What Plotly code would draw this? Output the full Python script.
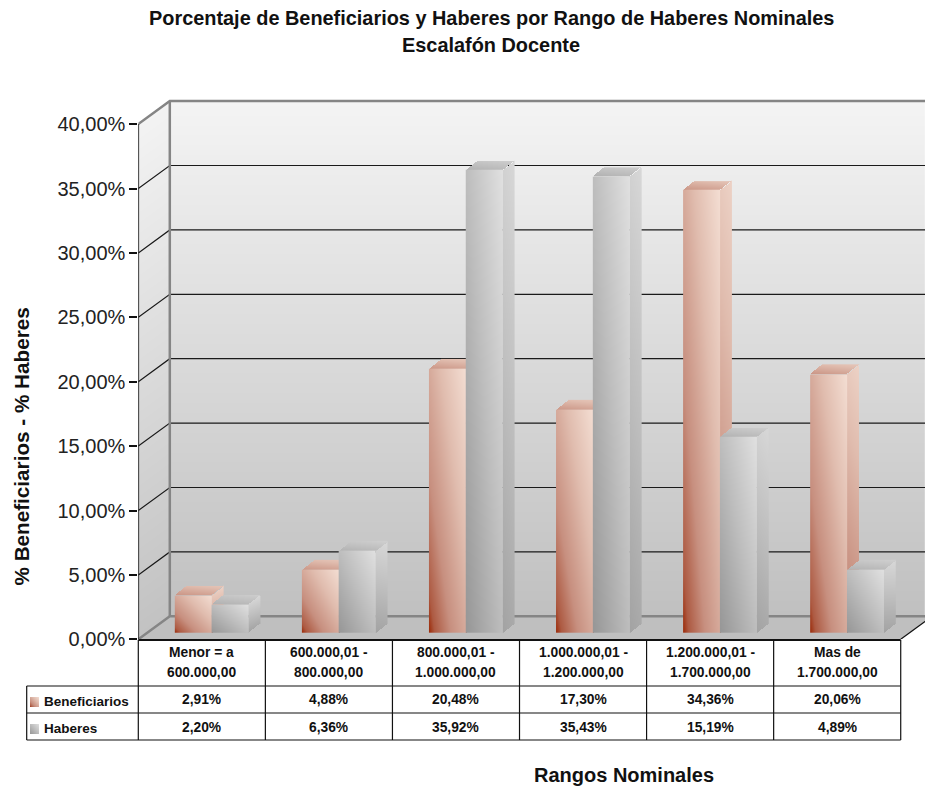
import numpy as np
import plotly.graph_objects as go

# ---- data ----
categories = [["Menor = a", "600.000,00"], ["600.000,01 -", "800.000,00"], ["800.000,01 -", "1.000.000,00"],
              ["1.000.000,01 -", "1.200.000,00"], ["1.200.000,01 -", "1.700.000,00"], ["Mas de", "1.700.000,00"]]
beneficiarios = [2.91, 4.88, 20.48, 17.30, 34.36, 20.06]
haberes = [2.20, 6.36, 35.92, 35.43, 15.19, 4.89]
y_ticks = [0, 5, 10, 15, 20, 25, 30, 35, 40]
y_tick_labels = ["0,00%", "5,00%", "10,00%", "15,00%", "20,00%", "25,00%", "30,00%", "35,00%", "40,00%"]

# ---- geometry / styling ----
W, H = 925, 787
FONT = "Liberation Sans"
PX_X, PX_Y = 1 / 127.07, 1 / 12.88         # one screen pixel in axis units
LEFT, BASE, TOP = 138.3, 639.3, 95
X_RANGE = [-0.5, (925 - LEFT) * PX_X - 0.5]
Y_RANGE = [0, (BASE - TOP) * PX_Y]
WALL_DX, WALL_DY = 31.5 * PX_X, 23 * PX_Y  # depth of the room
BAR_DX, BAR_DY = 12 * PX_X, 9.5 * PX_Y     # depth of a bar
BAR_W = 36.8 * PX_X
BAR_BASE = 6.6 * PX_Y
GROUP_SHIFT = -0.2125

RED = [[0, "#9a2806"], [0.08, "#ad5a42"], [0.3, "#c78f7f"], [0.65, "#e0bcae"], [1, "#f3ddd2"]]
GREY = [[0, "#969696"], [0.5, "#bdbdbd"], [1, "#e0e0e0"]]
WALL = [[0, "#c0c0c0"], [1, "#f4f4f4"]]
SIDE_WALL = [[0, "#c2c2c2"], [1, "#f3f3f3"]]

fig = go.Figure()


def face(o, e1, e2, zf, scale, xa, ya, step=1.0):
    """Paint a parallelogram with a gradient as a pixel-grid heatmap."""
    pts = np.array([o, np.add(o, e1), np.add(o, e2), np.add(np.add(o, e1), e2)])
    xs = np.arange(pts[:, 0].min() + PX_X * step / 2, pts[:, 0].max(), PX_X * step)
    ys = np.arange(pts[:, 1].min() + PX_Y * step / 2, pts[:, 1].max(), PX_Y * step)
    gx, gy = np.meshgrid(xs, ys)
    inv = np.linalg.inv(np.array([e1, e2]).T)
    u = inv[0, 0] * (gx - o[0]) + inv[0, 1] * (gy - o[1])
    v = inv[1, 0] * (gx - o[0]) + inv[1, 1] * (gy - o[1])
    z = zf(u, v)
    z = np.where((u >= 0) & (u <= 1) & (v >= 0) & (v <= 1), z, np.nan)
    fig.add_trace(go.Heatmap(x=xs, y=ys, z=z, zmin=0, zmax=1, colorscale=scale, showscale=False,
                             hoverinfo="skip", xaxis=xa, yaxis=ya, zsmooth=False))


def line(xs, ys, color, width):
    fig.add_trace(go.Scatter(x=xs, y=ys, mode="lines", line=dict(color=color, width=width),
                             hoverinfo="skip", showlegend=False, cliponaxis=True))


# ---- room ----
bx = -0.5 + WALL_DX
face((bx, WALL_DY), (X_RANGE[1] - bx, 0), (0, 40), lambda u, v: v, WALL, "x", "y")
face((-0.5, 0), (WALL_DX, WALL_DY), (0, 40), lambda u, v: v, SIDE_WALL, "x", "y")

fig.add_trace(go.Scatter(x=[-0.5, 5.5, 5.5 + WALL_DX, bx, -0.5], y=[0, 0, WALL_DY, WALL_DY, 0],
                         mode="lines", fill="toself", fillcolor="#bfbfbf", line=dict(width=0),
                         hoverinfo="skip", showlegend=False))

gx, gy = [], []
for t in y_ticks[1:-1]:
    gx += [-0.5, bx, X_RANGE[1], None]
    gy += [t, t + WALL_DY, t + WALL_DY, None]
line(gx, gy, "#1a1a1a", 1.2)
line([-0.5, bx, X_RANGE[1]], [40, 40 + WALL_DY, 40 + WALL_DY], "#858585", 2.5)
line([bx, bx], [WALL_DY, 40 + WALL_DY], "#858585", 2.5)
line([-0.5, bx, X_RANGE[1]], [0, WALL_DY, WALL_DY], "#858585", 2.5)
line([5.5, 5.5 + WALL_DX], [0, WALL_DY], "#111111", 1.2)
line([-0.5, -0.5], [0, 40], "#111111", 1.6)


# ---- bars ----
def bars(values, name, idx, scale, xa, ya):
    shift = GROUP_SHIFT + idx * BAR_W
    for i, val in enumerate(values):
        x0 = i + shift
        x1 = x0 + BAR_W
        top = BAR_BASE + val
        face((x1, BAR_BASE), (BAR_DX, BAR_DY), (0, val),
             lambda u, v: 0.16 + 0.1 * u + 0.62 * v, scale, xa, ya)
        face((x0, top), (BAR_W, 0), (BAR_DX, BAR_DY),
             lambda u, v: 0.35 + 0.1 * u + 0.3 * v, scale, xa, ya)
        face((x0, BAR_BASE), (BAR_W, 0), (0, val),
             lambda u, v: 0.5 * u + 0.5 * v, scale, xa, ya)
    fig.add_trace(go.Bar(x=[i + shift + BAR_W / 2 for i in range(len(values))], y=values, base=BAR_BASE,
                         width=BAR_W, name=name, marker=dict(color="rgba(0,0,0,0)", line=dict(width=0)),
                         showlegend=False, xaxis=xa, yaxis=ya, hovertemplate="%{y:.2f}%<extra>" + name + "</extra>"))


bars(beneficiarios, "Beneficiarios", 0, RED, "x2", "y2")
bars(haberes, "Haberes", 1, GREY, "x3", "y3")


# ---- helpers for paper coordinates (page pixels to figure fractions) ----
def px(x):
    return x / W


def py(y):
    return 1 - y / H


shapes = []
annotations = []


def tbl_line(x0, y0, x1, y1, w=1.2):
    shapes.append(dict(type="line", xref="paper", yref="paper", x0=px(x0), y0=py(y0), x1=px(x1), y1=py(y1),
                       line=dict(color="#111111", width=w)))


COL_X = [LEFT + 127.07 * i for i in range(7)]
tbl_line(LEFT, 640, COL_X[6], 640, 1.8)
for cx in COL_X:
    tbl_line(cx, 640, cx, 740)
tbl_line(26.7, 686, COL_X[6], 686)
tbl_line(26.7, 713, COL_X[6], 713)
tbl_line(26.7, 740, COL_X[6], 740)
tbl_line(26.7, 686, 26.7, 740)


def text(x, y, s, size, **kw):
    annotations.append(dict(x=x, y=y, xref="paper", yref="paper", text=s, showarrow=False,
                            font=dict(family=FONT, size=size, color="#111111"), **kw))


def pct(v):
    return "<b>" + ("%.2f" % v).replace(".", ",") + "%</b>"


for i, c in enumerate(categories):
    cx = px((COL_X[i] + COL_X[i + 1]) / 2)
    text(cx, py(652), "<b>" + c[0] + "</b>", 13.8, xanchor="center", yanchor="middle")
    text(cx, py(672), "<b>" + c[1] + "</b>", 13.8, xanchor="center", yanchor="middle")
    text(cx, py(699), pct(beneficiarios[i]), 13.8, xanchor="center", yanchor="middle")
    text(cx, py(727), pct(haberes[i]), 13.8, xanchor="center", yanchor="middle")

text(px(42), py(701), "<b>Beneficiarios</b>", 13.5, xanchor="left", yanchor="middle")
text(px(42), py(728), "<b>Haberes</b>", 13.5, xanchor="left", yanchor="middle")
text(px(624), py(775), "<b>Rangos Nominales</b>", 20, xanchor="center", yanchor="middle")
text(px(21), py(446.5), "<b>% Beneficiarios - % Haberes</b>", 20.7, xanchor="center", yanchor="middle", textangle=-90)
text(px(491), py(18), "<b>Porcentaje de Beneficiarios y Haberes por Rango de Haberes Nominales</b>", 19.9,
     xanchor="center", yanchor="middle")
text(px(491), py(45), "<b>Escalafón Docente</b>", 19.9, xanchor="center", yanchor="middle")


def interp_scale(scale, t):
    stops = [s[0] for s in scale]
    rgb = np.array([[int(s[1][j:j + 2], 16) for j in (1, 3, 5)] for s in scale])
    return "rgb(%d,%d,%d)" % tuple(np.interp(t, stops, rgb[:, k]) for k in range(3))


def key(y0, scale):
    for i in range(9):
        for j in range(10):
            t = 0.5 * (i + 0.5) / 9 + 0.5 * (j + 0.5) / 10
            shapes.append(dict(type="rect", xref="paper", yref="paper", x0=px(30 + i), x1=px(31 + i),
                               y0=py(y0 - j), y1=py(y0 - j - 1), line=dict(width=0),
                               fillcolor=interp_scale(scale, t)))


key(707, RED)
key(734, GREY)

# ---- layout ----
dom_x = [px(LEFT), 1]
dom_y = [py(BASE), py(TOP)]
layout_axes = {}
for n in ("2", "3"):
    layout_axes["xaxis" + n] = dict(domain=dom_x, range=X_RANGE, overlaying="x", visible=False, anchor="y" + n,
                                    fixedrange=True, automargin=False)
    layout_axes["yaxis" + n] = dict(domain=dom_y, range=Y_RANGE, overlaying="y", visible=False, anchor="x" + n,
                                    fixedrange=True, automargin=False)

fig.update_layout(
    width=W, height=H, margin=dict(l=0, r=0, t=0, b=0, autoexpand=False), showlegend=False,
    paper_bgcolor="white", plot_bgcolor="white", barmode="overlay",
    font=dict(family=FONT, color="#222222"),
    xaxis=dict(domain=dom_x, range=X_RANGE, showgrid=False, zeroline=False, showline=False,
               showticklabels=False, ticks="", fixedrange=True, automargin=False),
    yaxis=dict(domain=dom_y, range=Y_RANGE, tickvals=y_ticks, ticktext=y_tick_labels, ticks="outside", ticklen=8,
               tickcolor="#111111", tickwidth=1.5, showgrid=False, zeroline=False, showline=False,
               tickfont=dict(family=FONT, size=20, color="#222222"), fixedrange=True, automargin=False),
    shapes=shapes, annotations=annotations, **layout_axes,
)

# The page's default 8px body margin would push the 925x787 figure out of the window.
fig.write_html("out.html", config={"displayModeBar": False}, post_script="document.body.style.margin='0';")
